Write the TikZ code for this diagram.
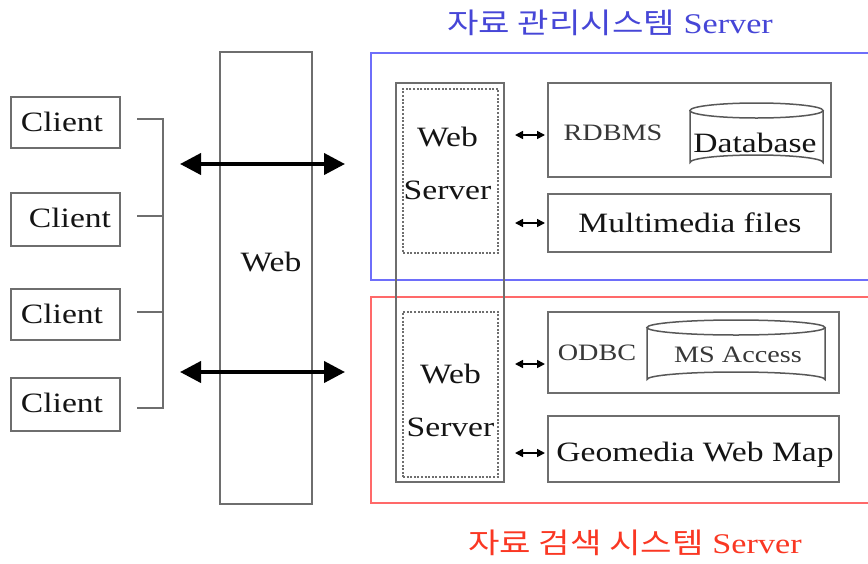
\documentclass[tikz,border=0pt]{standalone}
\usepackage{fontspec}
\setmainfont[FakeStretch=1.2]{Liberation Serif}
\newfontfamily\kfont[FakeStretch=1.2]{Noto Sans CJK KR}
\usetikzlibrary{arrows.meta}
\definecolor{gline}{RGB}{110,110,110}
\definecolor{bline}{RGB}{110,110,250}
\definecolor{btext}{RGB}{70,70,215}
\definecolor{rline}{RGB}{255,105,105}
\definecolor{rtext}{RGB}{250,55,35}
\tikzset{
  gbox/.style={draw=gline, line width=1.4pt, inner sep=0pt, fill=white},
  dbox/.style={draw=gline, line width=1.2pt, dash pattern=on 2pt off 1.6pt, inner sep=0pt},
  bigtxt/.style={font=\fontsize{28}{30}\selectfont, text=black!92, inner sep=0pt},
  smtxt/.style={font=\fontsize{23.5}{26}\selectfont, text=black!78, inner sep=0pt},
  wstxt/.style={font=\fontsize{28}{53}\selectfont, text=black!92, inner sep=0pt, align=center},
  conn/.style={draw=gline, line width=1.4pt},
  bigarrow/.style={line width=4pt, {Triangle[length=21pt,width=21pt]}-{Triangle[length=21pt,width=21pt]}},
  smallarrow/.style={line width=1.6pt, {Triangle[length=8pt,width=8pt]}-{Triangle[length=8pt,width=8pt]}},
  cyl/.style={draw=gline!80!black, line width=1.5pt}
}
\begin{document}
\begin{tikzpicture}[x=1pt,y=-1pt]
\useasboundingbox[fill=white] (0,0) rectangle (868,563);

% titles
\node[inner sep=0pt, text=btext, font=\fontsize{28.5}{30}\selectfont] (t1) at (610,23) {{\kfont 자료 관리시스템} Server};
\node[inner sep=0pt, text=rtext, font=\fontsize{28.5}{30}\selectfont] (t2) at (635,543) {{\kfont 자료 검색 시스템} Server};

% system frames
\draw[bline, line width=1.5pt] (868,53) -- (371,53) -- (371,280) -- (868,280);
\draw[rline, line width=1.5pt] (868,297) -- (371,297) -- (371,503) -- (868,503);

% clients
\node[gbox, minimum width=109pt, minimum height=51pt] (c1) at (65.5,122.5) {};
\node[gbox, minimum width=109pt, minimum height=53pt] (c2) at (65.5,219.5) {};
\node[gbox, minimum width=109pt, minimum height=51pt] (c3) at (65.5,314.5) {};
\node[gbox, minimum width=109pt, minimum height=53pt] (c4) at (65.5,404.5) {};
\node[bigtxt] (c1t) at (62,122) {Client};
\node[bigtxt] (c2t) at (70,218) {Client};
\node[bigtxt] (c3t) at (62,314) {Client};
\node[bigtxt] (c4t) at (62,403) {Client};

% bracket
\coordinate (b1) at (137,119); \coordinate (k1) at (163,119);
\coordinate (b2) at (137,216); \coordinate (k2) at (163,216);
\coordinate (b3) at (137,312); \coordinate (k3) at (163,312);
\coordinate (b4) at (137,408); \coordinate (k4) at (163,408);
\draw[conn] (b1) -- (k1) -- (k4) -- (b4);
\draw[conn] (b2) -- (k2);
\draw[conn] (b3) -- (k3);

% web
\node[gbox, fill=none, minimum width=92pt, minimum height=452pt] (web) at (266,278) {};
\node[bigtxt] (webt) at (271,262) {Web};

% big arrows
\coordinate (a1l) at (180,164); \coordinate (a1r) at (345,164);
\coordinate (a2l) at (180,372); \coordinate (a2r) at (345,372);
\draw[bigarrow] (a1l) -- (a1r);
\draw[bigarrow] (a2l) -- (a2r);

% web server column
\node[gbox, fill=none, minimum width=108pt, minimum height=399pt] (wsc) at (450,282.5) {};
\node[dbox, minimum width=95pt, minimum height=164pt] (ws1) at (450.5,171) {};
\node[dbox, minimum width=95pt, minimum height=165pt] (ws2) at (450.5,394.5) {};
\node[wstxt] (ws1t) at (447.5,163.5) {Web\\Server};
\node[wstxt] (ws2t) at (450.5,400) {Web\\Server};

% upper services
\node[gbox, minimum width=283pt, minimum height=94pt] (rdb) at (689.5,130) {};
\node[smtxt] (rdbt) at (613,133) {RDBMS};
\draw[cyl, fill=white] (690,110.5) -- (690,162.5) arc[start angle=180, end angle=0, x radius=66.5pt, y radius=7.5pt] -- (823,110.5);
\draw[cyl] (756.5,110.5) ellipse [x radius=66.5pt, y radius=7.5pt];
\node[bigtxt] (dbt) at (755,143) {Database};

\node[gbox, minimum width=283pt, minimum height=58pt] (mm) at (689.5,223) {};
\node[bigtxt] (mmt) at (690,223) {Multimedia files};

% lower services
\node[gbox, minimum width=291pt, minimum height=81pt] (odbc) at (693.5,352.5) {};
\node[smtxt] (odbct) at (597,353) {ODBC};
\draw[cyl, fill=white] (647,327.5) -- (647,379.5) arc[start angle=180, end angle=0, x radius=89pt, y radius=7.5pt] -- (825,327.5);
\draw[cyl] (736,327.5) ellipse [x radius=89pt, y radius=7.5pt];
\node[smtxt] (mst) at (738,355) {MS Access};

\node[gbox, minimum width=291pt, minimum height=66pt] (geo) at (693.5,449) {};
\node[bigtxt] (geot) at (695,455) {Geomedia Web Map};

% small arrows
\coordinate (s1l) at (515,135); \coordinate (s1r) at (545,135);
\coordinate (s2l) at (515,223); \coordinate (s2r) at (545,223);
\coordinate (s3l) at (515,364); \coordinate (s3r) at (545,364);
\coordinate (s4l) at (515,453); \coordinate (s4r) at (545,453);
\draw[smallarrow] (s1l) -- (s1r);
\draw[smallarrow] (s2l) -- (s2r);
\draw[smallarrow] (s3l) -- (s3r);
\draw[smallarrow] (s4l) -- (s4r);
\end{tikzpicture}
\end{document}
